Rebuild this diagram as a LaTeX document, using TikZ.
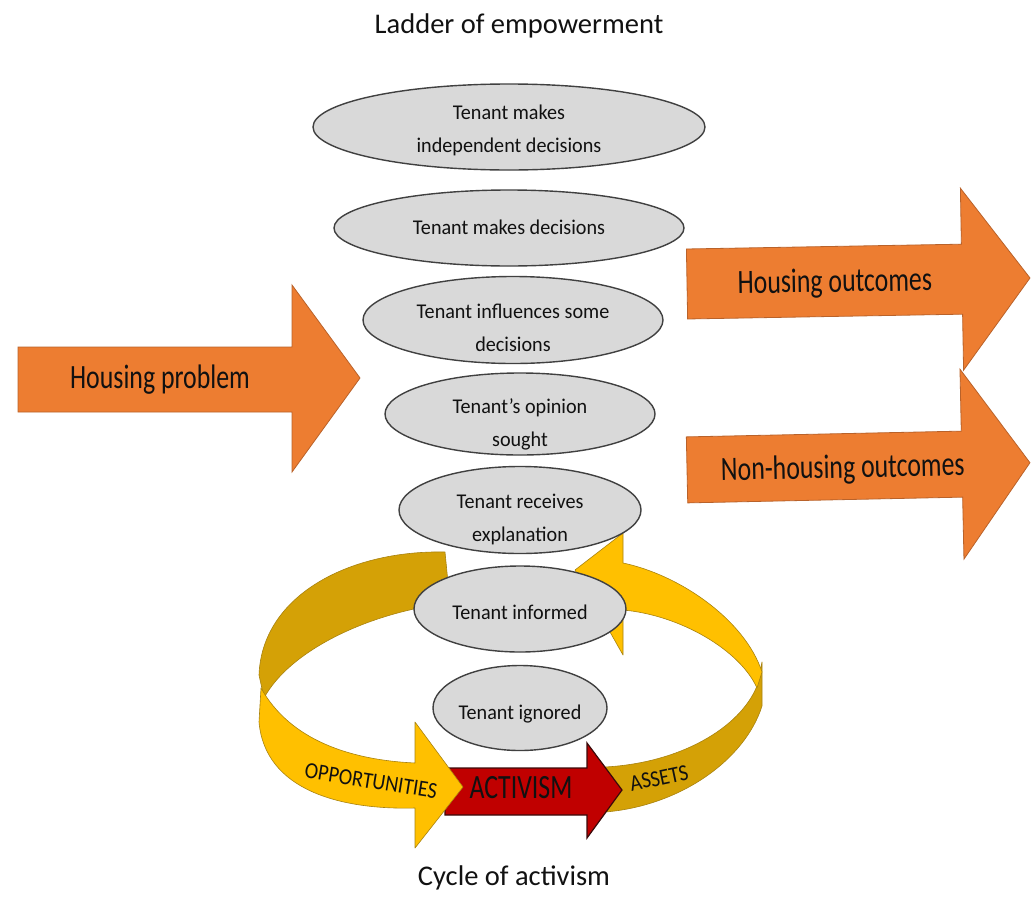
\documentclass[tikz,border=0pt]{standalone}
\usepackage{fontspec}
\setmainfont{Carlito}
\newfontfamily\narrowfont[FakeStretch=0.76]{Carlito}
\newfontfamily\bandfont[FakeStretch=0.88]{Carlito}
\newfontfamily\rungfont[FakeStretch=0.96]{Carlito}
\usepackage{tikz}
\usetikzlibrary{shapes.geometric}
\definecolor{ink}{HTML}{111111}
\definecolor{orng}{HTML}{ED7D31}
\definecolor{orngline}{HTML}{B9622A}
\definecolor{rungfill}{HTML}{D9D9D9}
\definecolor{rungline}{HTML}{404040}
\definecolor{goldlt}{HTML}{FFC000}
\definecolor{golddk}{HTML}{D4A106}
\definecolor{goldline}{HTML}{A8820F}
\definecolor{actred}{HTML}{C00000}
\definecolor{actline}{HTML}{3A0A0A}
\tikzset{
  rung/.style={ellipse, draw=rungline, fill=rungfill, line width=1.4pt, inner sep=0pt},
  rungtxt/.style={align=center, text=ink, inner sep=0pt, font=\rungfont\fontsize{21}{33}\selectfont},
  outarrow/.style={fill=orng, draw=orngline, line width=0.8pt},
  band/.style={draw=goldline, line width=0.6pt, line join=round},
  lab/.style={text=ink, font=\narrowfont\fontsize{34}{40}\selectfont},
  bandlab/.style={text=ink, font=\bandfont\fontsize{23}{26}\selectfont},
  ttl/.style={text=ink, font=\fontsize{28.5}{32}\selectfont},
}

\begin{document}
\begin{tikzpicture}[x=1pt, y=-1pt]
  \useasboundingbox (0,0) rectangle (1034,900);
  % orange arrows
  \draw[outarrow] (18,347) -- (292,347) -- (292,285) -- (360,378) -- (292,472) -- (292,412) -- (18,412) -- cycle;
  \begin{scope}[rotate around={1:(858,281)}]
    \draw[outarrow] (687,246) -- (962,246) -- (962,190) -- (1030,281) -- (962,372) -- (962,316) -- (687,316) -- cycle;
  \end{scope}
  \begin{scope}[rotate around={1.2:(825,467)}]
    \draw[outarrow] (687,434) -- (962,434) -- (962,372) -- (1030,467) -- (962,562) -- (962,500) -- (687,500) -- cycle;
  \end{scope}
  % cycle ribbon
  \draw[band, fill=golddk] (757,686) -- (762,662) -- (762,706) .. controls (745,760) and (680,806) .. (605,812) -- (605,767) .. controls (680,763) and (740,728) .. (757,686) -- cycle;
  \draw[band, fill=goldlt] (623,563) .. controls (680,575) and (745,620) .. (762,672) -- (757,688) .. controls (740,650) and (680,615) .. (623,610) -- (623,655) -- (575,570) -- (623,533) -- cycle;
  \draw[band, fill=golddk] (445,552) .. controls (350,550) and (262,595) .. (259,675) -- (264,698) .. controls (290,650) and (370,612) .. (450,603) -- cycle;
  \draw[fill=actred, draw=actline, line width=1.2pt] (445,768) -- (587,768) -- (587,743) -- (622,790) -- (587,838) -- (587,815) -- (445,815) -- cycle;
  \draw[band, fill=goldlt] (261,688) .. controls (290,740) and (350,760) .. (415,763) -- (415,722) -- (463,787) -- (415,848) -- (415,808) .. controls (340,810) and (265,790) .. (259,722) -- cycle;
  % ladder of empowerment
  \foreach \name/\cx/\cy/\w/\h/\dy/\txt in {
    indep/509/127/392/86/3/{Tenant makes\\independent decisions},
    decide/509/228/350/76/-1/{Tenant makes decisions},
    influ/513/320/300/87/8/{Tenant influences some\\decisions},
    opinion/520/414/270/82/10/{Tenant’s opinion\\sought},
    explain/520/510/242/87/9/{Tenant receives\\explanation},
    inform/520/609/212/86/3/{Tenant informed},
    ignore/520/708/174/85/6/{Tenant ignored}}
  {
    \node[rung, minimum width=\w pt, minimum height=\h pt] (\name) at (\cx,\cy) {};
    \node[rungtxt] (\name-txt) at (\cx,\cy+\dy) {\txt};
  }
  % labels
  \node[ttl, anchor=base] (ladder) at (519,33) {Ladder of empowerment};
  \node[ttl, anchor=base] (cycle) at (514,885) {Cycle of activism};
  \node[lab, anchor=base] (problem) at (160,388) {Housing problem};
  \node[lab, anchor=base, rotate=1] (housing) at (835,292) {Housing outcomes};
  \node[lab, anchor=base, rotate=1.2] (nonhousing) at (843,478) {Non-housing outcomes};
  \node[lab, anchor=base] (activism) at (521,798) {ACTIVISM};
  \node[bandlab, rotate=-9] (opps) at (371,781) {OPPORTUNITIES};
  \node[bandlab, rotate=12] (assets) at (659,778) {ASSETS};
\end{tikzpicture}
\end{document}
